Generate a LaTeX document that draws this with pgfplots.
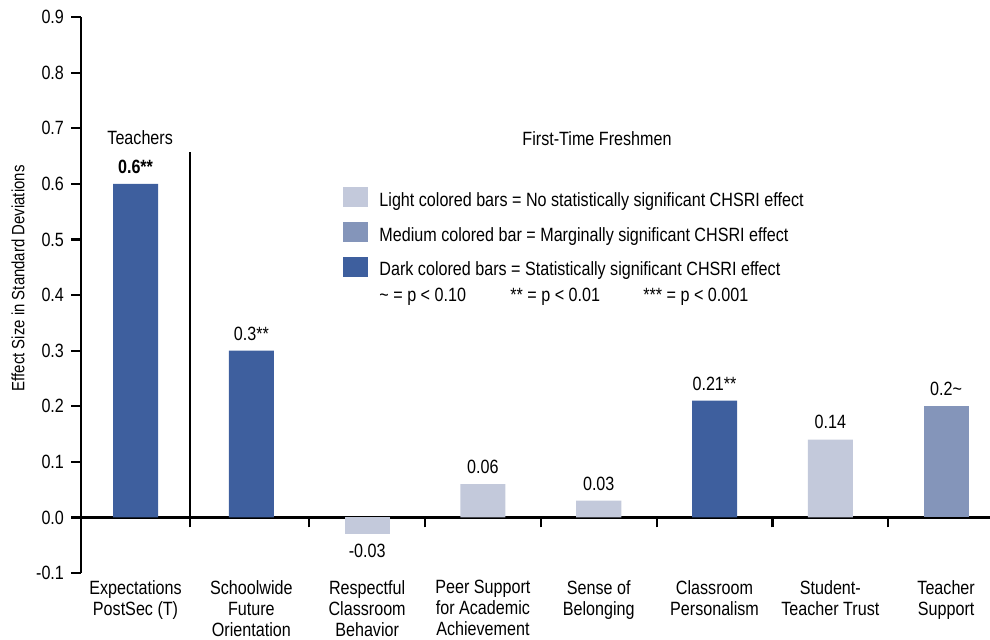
\documentclass[border=0pt]{standalone}
\usepackage{fontspec}
\setmainfont{Liberation Sans}[FakeStretch=0.84]
\usepackage{pgfplots}
\pgfplotsset{compat=1.18}
\definecolor{darkbar}{RGB}{62,95,158}
\definecolor{medbar}{RGB}{132,149,186}
\definecolor{lightbar}{RGB}{195,201,219}

\begin{document}
\begin{tikzpicture}[font=\fontsize{9.6}{10.5}\selectfont]
\begin{axis}[
  scale only axis, width=454.5pt, height=278pt,
  xmin=-0.471, xmax=7.379, ymin=-0.1, ymax=0.9,
  axis x line=middle, axis y line=left,
  axis line style={line width=1.1pt, -},
  ytick={-0.1,0,0.1,0.2,0.3,0.4,0.5,0.6,0.7,0.8,0.9},
  yticklabel style={/pgf/number format/.cd, fixed, fixed zerofill, precision=1, assume math mode=true},
  xtick={0.471,1.5,2.5,3.5,4.5,5.5,6.5}, xticklabels={},
  tick align=outside, major tick length=5pt,
  tick style={line width=1.1pt, black},
  ylabel={Effect Size in Standard Deviations},
  ylabel style={at={(axis description cs:-0.0693,0.53)}, anchor=center,
                font=\fontsize{8.9}{10}\selectfont},
  ybar, bar width=0.389,
  nodes near coords, point meta=explicit symbolic,
  every node near coord/.append style={inner sep=5pt},
  clip=false,
]
% dark = significant
\addplot[fill=darkbar, draw=none, bar shift=0pt] coordinates {
  (0,0.60) [\textbf{0.6**}]
  (1,0.30) [0.3**]
  (5,0.21) [0.21**]
};
% light = not significant
\addplot[fill=lightbar, draw=none, bar shift=0pt] coordinates {
  (3,0.06) [0.06]
  (4,0.03) [0.03]
  (6,0.14) [0.14]
};
\addplot[fill=lightbar, draw=none, bar shift=0pt,
  every node near coord/.append style={anchor=north}] coordinates {
  (2,-0.03) [-0.03]
};
% medium = marginal
\addplot[fill=medbar, draw=none, bar shift=0pt] coordinates {
  (7,0.20) [0.2\textasciitilde]
};

\draw[line width=1.1pt] (axis cs:0.471,0) -- (axis cs:0.471,0.658);
\node at (axis cs:0.04,0.683) {Teachers};
\node at (axis cs:3.985,0.682) {First-Time Freshmen};

% legend
\fill[lightbar] (axis cs:1.792,0.558) rectangle (axis cs:2.008,0.594);
\fill[medbar]   (axis cs:1.792,0.495) rectangle (axis cs:2.008,0.532);
\fill[darkbar]  (axis cs:1.792,0.433) rectangle (axis cs:2.008,0.469);
\node[anchor=west, inner sep=0pt] at (axis cs:2.103,0.568) {Light colored bars = No statistically significant CHSRI effect};
\node[anchor=west, inner sep=0pt] at (axis cs:2.103,0.505) {Medium colored bar = Marginally significant CHSRI effect};
\node[anchor=west, inner sep=0pt] at (axis cs:2.103,0.444) {Dark colored bars = Statistically significant CHSRI effect};
\node[anchor=west, inner sep=0pt] at (axis cs:2.103,0.396) {\textasciitilde{} = p < 0.10};
\node[anchor=west, inner sep=0pt] at (axis cs:3.234,0.396) {** = p < 0.01};
\node[anchor=west, inner sep=0pt] at (axis cs:4.382,0.396) {*** = p < 0.001};

% category labels
\tikzset{catlab/.style={anchor=north, align=center, inner sep=0pt, yshift=-3.5pt}}
\node[catlab] at (axis cs:0,-0.1) {Expectations\\PostSec (T)};
\node[catlab] at (axis cs:1,-0.1) {Schoolwide\\Future\\Orientation};
\node[catlab] at (axis cs:2,-0.1) {Respectful\\Classroom\\Behavior};
\node[catlab] at (axis cs:3,-0.1) {Peer Support\\for Academic\\Achievement};
\node[catlab] at (axis cs:4,-0.1) {Sense of\\Belonging};
\node[catlab] at (axis cs:5,-0.1) {Classroom\\Personalism};
\node[catlab] at (axis cs:6,-0.1) {Student-\\Teacher Trust};
\node[catlab] at (axis cs:7,-0.1) {Teacher\\Support};

\coordinate (SW) at (rel axis cs:0,0);
\coordinate (NE) at (rel axis cs:1,1);
\end{axis}
\pgfresetboundingbox
\path[use as bounding box] ([shift={(-40.5pt,-33pt)}]SW) rectangle ([shift={(0pt,8.5pt)}]NE);
\end{tikzpicture}
\end{document}
